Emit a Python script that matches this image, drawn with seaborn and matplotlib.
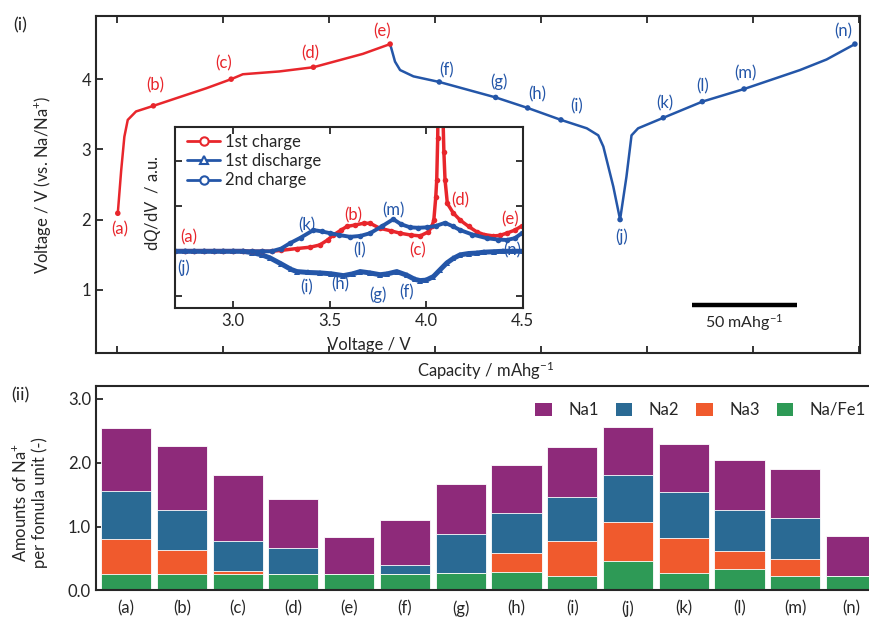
import numpy as np
import pandas as pd
import matplotlib
matplotlib.use("Agg")
import matplotlib.pyplot as plt
from matplotlib.lines import Line2D
from matplotlib.patches import Patch
import seaborn as sns

sns.set_style("ticks")
plt.rcParams['font.family'] = ['Lato', 'DejaVu Sans']
plt.rcParams['mathtext.fontset'] = 'custom'
plt.rcParams['mathtext.rm'] = 'Lato'
plt.rcParams['mathtext.it'] = 'Lato:italic'
plt.rcParams['axes.unicode_minus'] = True

RED = "#E8262C"
BLUE = "#2456A8"

# ---------------- main charge/discharge curve ----------------
charge1_cap = [0.3, 1.9, 3.4, 5.0, 8.9, 17.1, 31.0, 42.0, 53.8, 59.3, 76.5, 92.6, 115.9, 128.8]
charge1_volt = [2.09, 2.70, 3.18, 3.42, 3.54, 3.62, 3.76, 3.87, 4.00, 4.07, 4.11, 4.17, 4.36, 4.50]

disch_cap = [128.8, 131.1, 133.5, 139.8, 152.0, 178.6, 193.7, 209.4, 221.6, 227.0, 229.4, 234.1, 237.3]
disch_volt = [4.50, 4.25, 4.13, 4.04, 3.96, 3.74, 3.59, 3.42, 3.30, 3.20, 3.04, 2.47, 2.00]

charge2_cap = [237.3, 240.3, 242.7, 245.8, 257.7, 276.1, 295.8, 322.2, 334.7, 348.1]
charge2_volt = [2.00, 2.61, 3.20, 3.30, 3.45, 3.68, 3.86, 4.13, 4.28, 4.50]

point_labels = ["(a)", "(b)", "(c)", "(d)", "(e)", "(f)", "(g)", "(h)", "(i)", "(j)", "(k)", "(l)", "(m)", "(n)"]
point_cap = [0.3, 17.1, 53.8, 92.6, 128.8, 152.0, 178.6, 193.7, 209.4, 237.3, 257.7, 276.1, 295.8, 348.1]
point_volt = [2.09, 3.62, 4.00, 4.17, 4.50, 3.96, 3.74, 3.59, 3.42, 2.00, 3.45, 3.68, 3.86, 4.50]
point_colors = [RED] * 5 + [BLUE] * 9
label_dx = [2, 2, -8, -3, -8, 7, 3, 10, 16, 2, 1, 0, 1, -12]
label_dy = [-16, 20, 16, 14, 13, 12, 16, 14, 14, -17, 14, 15, 16, 13]

# ---------------- inset dQ/dV ----------------
dq_c1_v = [2.70, 2.75, 2.80, 2.85, 2.90, 2.95, 3.00, 3.05, 3.10, 3.15, 3.20, 3.25, 3.33, 3.40, 3.45,
           3.49, 3.52, 3.56, 3.59, 3.63, 3.676, 3.71, 3.76, 3.82, 3.866, 3.92, 3.969, 4.012, 4.03,
           4.04, 4.05, 4.055, 4.06, 4.064, 4.07, 4.078, 4.086, 4.092, 4.098, 4.11, 4.14, 4.176,
           4.22, 4.262, 4.30, 4.348, 4.38, 4.417, 4.46, 4.495]
dq_c1_y = [1.00, 1.00, 1.00, 1.00, 1.00, 1.00, 1.00, 1.00, 1.00, 1.00, 1.00, 1.02, 1.06, 1.09, 1.14,
           1.25, 1.36, 1.47, 1.55, 1.58, 1.62, 1.62, 1.51, 1.45, 1.40, 1.36, 1.34, 1.43, 1.55,
           1.69, 2.20, 2.58, 3.50, 5.00, 6.00, 5.00, 4.20, 3.20, 2.58, 2.06, 1.85, 1.69,
           1.55, 1.43, 1.37, 1.34, 1.35, 1.40, 1.47, 1.56]

dq_d1_v = [2.70, 2.75, 2.80, 2.85, 2.90, 2.95, 3.00, 3.05, 3.10, 3.15, 3.193, 3.25, 3.30, 3.331, 3.39,
           3.452, 3.51, 3.572, 3.62, 3.659, 3.71, 3.762, 3.80, 3.848, 3.90, 3.94, 3.969, 4.00,
           4.038, 4.07, 4.107, 4.14, 4.176, 4.22, 4.262, 4.30, 4.35, 4.40, 4.45, 4.50]
dq_d1_y = [1.00, 1.00, 1.00, 1.00, 1.00, 1.00, 1.00, 1.00, 0.97, 0.92, 0.85, 0.72, 0.60, 0.55, 0.53,
           0.52, 0.50, 0.46, 0.50, 0.55, 0.52, 0.48, 0.50, 0.55, 0.47, 0.38, 0.35, 0.36,
           0.44, 0.58, 0.74, 0.84, 0.92, 0.95, 0.96, 0.98, 0.99, 1.00, 1.00, 1.00]

dq_c2_v = [2.70, 2.75, 2.80, 2.85, 2.90, 2.95, 3.00, 3.05, 3.10, 3.15, 3.20, 3.25, 3.296, 3.35, 3.417,
           3.46, 3.503, 3.55, 3.607, 3.66, 3.71, 3.77, 3.83, 3.87, 3.917, 3.96, 4.004, 4.05, 4.098,
           4.14, 4.176, 4.24, 4.314, 4.37, 4.417, 4.46, 4.495]
dq_c2_y = [1.00, 1.00, 1.00, 1.00, 1.00, 1.00, 1.00, 1.00, 1.00, 1.00, 1.00, 1.06, 1.18, 1.30, 1.47,
           1.44, 1.40, 1.36, 1.32, 1.34, 1.40, 1.55, 1.71, 1.60, 1.53, 1.52, 1.53, 1.56, 1.63,
           1.55, 1.47, 1.37, 1.29, 1.26, 1.25, 1.29, 1.40]

inset_labels = ["(a)", "(b)", "(c)", "(d)", "(e)", "(j)", "(k)", "(l)", "(m)", "(n)", "(i)", "(h)", "(g)", "(f)"]
inset_label_v = [2.769, 3.622, 3.958, 4.175, 4.434, 2.743, 3.384, 3.658, 3.829, 4.445, 3.384, 3.555, 3.751, 3.901]
inset_label_y = [1.30, 1.80, 1.03, 2.13, 1.71, 0.63, 1.58, 1.03, 1.91, 1.03, 0.19, 0.26, 0.04, 0.08]
inset_label_colors = [RED] * 5 + [BLUE] * 9

# ---------------- bar chart ----------------
samples = ["(a)", "(b)", "(c)", "(d)", "(e)", "(f)", "(g)", "(h)", "(i)", "(j)", "(k)", "(l)", "(m)", "(n)"]
na_fe1 = [0.25, 0.25, 0.25, 0.25, 0.25, 0.26, 0.27, 0.29, 0.23, 0.46, 0.28, 0.34, 0.23, 0.23]
na3 = [0.56, 0.39, 0.06, 0.00, 0.00, 0.00, 0.00, 0.29, 0.54, 0.61, 0.54, 0.28, 0.26, 0.00]
na2 = [0.74, 0.62, 0.47, 0.42, 0.00, 0.14, 0.62, 0.64, 0.70, 0.73, 0.72, 0.64, 0.64, 0.00]
na1 = [1.00, 1.00, 1.02, 0.76, 0.59, 0.70, 0.77, 0.75, 0.78, 0.76, 0.76, 0.78, 0.77, 0.63]
bar_names = ["Na1", "Na2", "Na3", "Na/Fe1"]
bar_colors = ["#8E2A7A", "#2A6A94", "#F05A2D", "#2E9A56"]

FS = 12

fig = plt.figure(figsize=(8.7, 6.17), dpi=100)

# ===== top panel =====
ax1 = fig.add_axes([0.1103, 0.4279, 0.8782, 0.5462])
for cx, cy, col in [(charge1_cap, charge1_volt, RED), (disch_cap, disch_volt, BLUE), (charge2_cap, charge2_volt, BLUE)]:
    sns.lineplot(x=cx, y=cy, sort=False, estimator=None, color=col, lw=1.8, ax=ax1)
pts = pd.DataFrame({"cap": point_cap, "volt": point_volt, "lab": point_labels})
sns.scatterplot(data=pts, x="cap", y="volt", hue="lab", palette=point_colors, s=16,
                edgecolor="none", legend=False, ax=ax1, zorder=4)
for lab, cx, cy, col, dx, dy in zip(point_labels, point_cap, point_volt, point_colors, label_dx, label_dy):
    ax1.annotate(lab, (cx, cy), xytext=(dx, dy), textcoords="offset pixels",
                 ha="center", va="center", color=col, fontsize=FS)

scale_start, scale_len, scale_y = 271.0, 50.0, 0.78
ax1.plot([scale_start, scale_start + scale_len], [scale_y, scale_y], color="black", lw=3.2, solid_capstyle="butt")
ax1.text(scale_start + scale_len / 2, 0.53, "50 mAhg$^{-1}$", ha="center", va="center", fontsize=FS - 0.5)

ax1.set_xlim(-10, 350.5)
ax1.set_ylim(0.1, 4.9)
ax1.set_xticks(np.arange(0, 351, 50))
ax1.set_xticklabels([])
ax1.set_yticks([1, 2, 3, 4])
ax1.set_yticklabels(["1", "2", "3", "4"])
ax1.tick_params(direction="in", top=True, right=False, length=5, width=1.3, labelsize=FS)
ax1.set_xlabel("Capacity / mAhg$^{-1}$", fontsize=FS)
ax1.set_ylabel("Voltage / V (vs. Na/Na$^{+}$)", fontsize=FS)
ax1.xaxis.set_label_coords(0.51, -0.02)
ax1.yaxis.set_label_coords(-0.056, 0.5)
for s in ax1.spines.values():
    s.set_linewidth(1.5)

# ===== inset =====
ax2 = fig.add_axes([0.2011, 0.5013, 0.3997, 0.2934])
ax2.set_zorder(3)
ax2.set_facecolor("white")
sns.lineplot(x=dq_d1_v, y=dq_d1_y, sort=False, estimator=None, color=BLUE, lw=3.6,
             marker="^", markersize=5, markeredgewidth=0, ax=ax2)
sns.lineplot(x=dq_c1_v, y=dq_c1_y, sort=False, estimator=None, color=RED, lw=2.5,
             marker="o", markersize=4, markeredgewidth=0, ax=ax2)
sns.lineplot(x=dq_c2_v, y=dq_c2_y, sort=False, estimator=None, color=BLUE, lw=2.8,
             marker="o", markersize=4, markeredgewidth=0, ax=ax2)
for lab, vx, vy, col in zip(inset_labels, inset_label_v, inset_label_y, inset_label_colors):
    ax2.text(vx, vy, lab, color=col, fontsize=FS, ha="center", va="center")

ax2.set_xlim(2.7, 4.5)
ax2.set_ylim(-0.25, 3.76)
ax2.set_xticks([3.0, 3.5, 4.0, 4.5])
ax2.set_xticklabels(["3.0", "3.5", "4.0", "4.5"])
ax2.set_yticks([0, 1, 2, 3])
ax2.set_yticklabels([])
ax2.tick_params(direction="in", top=True, right=True, length=5, width=1.3, labelsize=FS)
ax2.set_xlabel("Voltage / V", fontsize=FS)
ax2.set_ylabel("d$Q$/d$V$  / a.u.", fontsize=FS)
ax2.xaxis.set_label_coords(0.558, -0.16)
ax2.yaxis.set_label_coords(-0.035, 0.58)
for s in ax2.spines.values():
    s.set_linewidth(1.5)
handles = [
    Line2D([], [], color=RED, lw=2, marker="o", markersize=6, markerfacecolor="white", markeredgewidth=1.5),
    Line2D([], [], color=BLUE, lw=2, marker="^", markersize=6, markerfacecolor="white", markeredgewidth=1.5),
    Line2D([], [], color=BLUE, lw=2, marker="o", markersize=6, markerfacecolor="white", markeredgewidth=1.5),
]
ax2.legend(handles, ["1st charge", "1st discharge", "2nd charge"], loc="upper left",
           bbox_to_anchor=(0.03, 0.97), frameon=False, fontsize=FS, handlelength=2.0,
           handletextpad=0.3, labelspacing=0.2, borderpad=0.1, borderaxespad=0)

# ===== bottom panel =====
ax3 = fig.add_axes([0.1103, 0.0430, 0.8897, 0.3314])
layer_bottom = np.array(na_fe1)
cum_na3 = layer_bottom + np.array(na3)
cum_na2 = cum_na3 + np.array(na2)
cum_na1 = cum_na2 + np.array(na1)
for vals, col in zip([cum_na1, cum_na2, cum_na3, layer_bottom], bar_colors):
    sns.barplot(x=samples, y=vals, color=col, saturation=1, width=0.9,
                edgecolor="white", linewidth=0.6, ax=ax3)
ax3.set_xlim(-0.54, 13.34)
ax3.set_ylim(0, 3.2)
ax3.set_yticks([0, 1, 2, 3])
ax3.set_yticklabels(["0.0", "1.0", "2.0", "3.0"])
ax3.tick_params(axis="y", direction="in", length=5, width=1.3, labelsize=FS)
ax3.tick_params(axis="x", length=0, pad=7, labelsize=FS)
ax3.set_xlabel("")
ax3.set_ylabel("Amounts of Na$^{+}$\nper fomula unit (-)", fontsize=FS)
ax3.yaxis.set_label_coords(-0.062, 0.43)
ax3.spines["right"].set_visible(False)
for k in ["left", "top", "bottom"]:
    ax3.spines[k].set_linewidth(1.5)
leg_handles = [Patch(facecolor=c, edgecolor="none") for c in bar_colors]
ax3.legend(leg_handles, bar_names, loc="center right", bbox_to_anchor=(0.995, 0.883), ncol=4,
           frameon=False, fontsize=FS, handlelength=1.0, handleheight=0.8, handletextpad=1.0,
           columnspacing=1.0, borderpad=0, borderaxespad=0)

fig.text(20 / 870, 1 - 25 / 617, "(i)", fontsize=FS + 1, ha="center", va="center")
fig.text(20 / 870, 1 - 395 / 617, "(ii)", fontsize=FS + 1, ha="center", va="center")

fig.savefig("out.png", dpi=100)
